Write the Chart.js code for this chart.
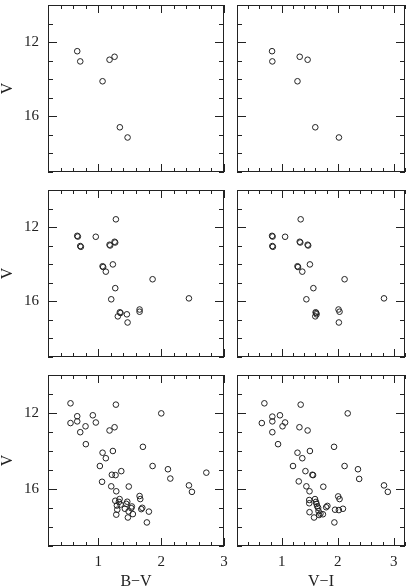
<!DOCTYPE html>
<html>
<head>
<meta charset="utf-8">
<script src="https://cdn.jsdelivr.net/npm/chart.js@4.4.0/dist/chart.umd.min.js"></script>
<style>
  html, body { margin: 0; padding: 0; background: #fff; overflow: hidden; }
  #wrap { position: relative; width: 410px; height: 586px; overflow: hidden; }
  canvas { position: absolute; }
</style>
</head>
<body>
<div id="wrap">
  <canvas id="topBV" width="232" height="177" style="left:0;top:0"></canvas>
  <canvas id="topVI" width="178" height="177" style="left:232px;top:0"></canvas>
  <canvas id="midBV" width="232" height="177" style="left:0;top:185px"></canvas>
  <canvas id="midVI" width="178" height="177" style="left:232px;top:185px"></canvas>
  <canvas id="botBV" width="232" height="226" style="left:0;top:370px"></canvas>
  <canvas id="botVI" width="178" height="226" style="left:232px;top:370px"></canvas>
</div>
<script>
// Top row: same stars in both colours
const topV  = [12.49, 13.04, 12.95, 12.79, 14.11, 16.59, 17.14];
const topBV = [0.665, 0.713, 1.179, 1.259, 1.068, 1.343, 1.466];
const topVI = [0.826, 0.831, 1.461, 1.320, 1.280, 1.598, 2.020];

// Middle row (last six are near-duplicates that show as thick circles)
const midV  = [11.58, 12.47, 12.52, 13.02, 12.79, 12.95, 14.11, 14.01, 14.40, 14.81, 15.29, 15.89, 15.84,
               16.59, 16.70, 16.81, 17.14, 16.44, 16.56,
               12.51, 13.06, 12.83, 12.99, 14.15, 16.63];
const midBV = [1.280, 0.665, 0.960, 0.713, 1.259, 1.179, 1.068, 1.232, 1.120, 1.864, 1.270, 1.206, 2.442,
               1.343, 1.455, 1.311, 1.466, 1.657, 1.657,
               0.675, 0.723, 1.269, 1.189, 1.078, 1.353];
const midVI = [1.337, 0.826, 1.059, 0.831, 1.320, 1.461, 1.280, 1.502, 1.366, 2.121, 1.564, 1.439, 2.825,
               1.604, 1.621, 1.598, 2.019, 2.013, 2.031,
               0.836, 0.841, 1.330, 1.471, 1.290, 1.614];

// Bottom row, B-V panel
const botBV = [0.558, 1.280, 2.002, 0.913, 0.665, 0.665, 0.558, 0.961, 0.797, 1.259, 1.179, 0.713, 0.802,
               1.710, 1.068, 1.232, 1.120, 1.025, 1.864, 2.108, 1.366, 2.719, 1.216, 1.275, 2.146, 1.060,
               1.206, 1.286, 1.485, 2.442, 2.490,
               1.657, 1.668, 1.270, 1.339, 1.328, 1.461, 1.445, 1.354, 1.296, 1.534, 1.525, 1.423, 1.302,
               1.684, 1.700, 1.805, 1.482, 1.550, 1.286, 1.471, 1.773];
const botV_BV = [11.49, 11.56, 12.02, 12.12, 12.17, 12.44, 12.53, 12.50, 12.70, 12.75, 12.92, 13.01, 13.64,
                 13.78, 14.09, 14.00, 14.38, 14.79, 14.79, 14.96, 15.06, 15.14, 15.25, 15.27, 15.45, 15.62,
                 15.86, 16.12, 15.87, 15.81, 16.15,
                 16.37, 16.53, 16.62, 16.53, 16.68, 16.67, 16.78, 16.82, 16.87, 16.92, 17.01, 17.04, 17.09,
                 17.06, 16.99, 17.19, 17.18, 17.32, 17.35, 17.50, 17.76];

// Bottom row, V-I panel
const botVI = [0.689, 1.337, 2.177, 0.967, 0.831, 0.831, 0.643, 1.059, 1.013, 1.315, 1.461, 0.831, 0.933,
               1.933, 1.280, 1.502, 1.366, 1.200, 2.121, 2.360, 1.422, 1.546, 1.558, 2.382, 1.303, 1.439,
               1.495, 1.741, 2.825, 2.893,
               2.007, 2.031, 1.490, 1.490, 1.593, 1.610, 1.621, 1.632, 1.649, 1.792, 1.814, 1.495, 1.656,
               1.690, 1.734, 1.666, 1.951, 2.019, 2.092, 1.576, 1.939];
const botV_VI = [11.49, 11.56, 12.02, 12.12, 12.19, 12.44, 12.53, 12.50, 12.70, 12.75, 12.92, 13.01, 13.64,
                 13.78, 14.09, 14.00, 14.38, 14.79, 14.79, 14.96, 15.06, 15.25, 15.27, 15.47, 15.60, 15.86,
                 16.12, 15.88, 15.81, 16.15,
                 16.39, 16.53, 16.58, 16.75, 16.53, 16.68, 16.79, 16.91, 16.99, 16.96, 16.89, 17.22, 17.16,
                 17.30, 17.33, 17.37, 17.09, 17.11, 17.04, 17.50, 17.76];

const ink = '#222';
const serif = 'Liberation Serif';

// frame plus inward ticks on all four sides, placed with the chart's scales
// minor every 0.2 in colour / 1 mag in V, major every 1 in colour / 4 mag in V
const frameTicks = {
  id: 'frameTicks',
  afterDraw(chart) {
    const {ctx, chartArea: a, scales: {x, y}} = chart;
    ctx.save();
    ctx.strokeStyle = ink;
    ctx.lineWidth = 1;
    ctx.strokeRect(a.left + 0.5, a.top + 0.5, a.right - a.left - 1, a.bottom - a.top - 1);
    ctx.beginPath();
    for (let k = Math.round(x.min * 5); k <= Math.round(x.max * 5); k++) {
      const len = k % 5 === 0 ? 8 : 4;
      const px = Math.round(x.getPixelForValue(k / 5)) + 0.5;
      ctx.moveTo(px, a.bottom); ctx.lineTo(px, a.bottom - len);
      ctx.moveTo(px, a.top); ctx.lineTo(px, a.top + len);
    }
    for (let v = y.min; v <= y.max; v++) {
      const len = v % 4 === 0 ? 9 : 5;
      const py = Math.round(y.getPixelForValue(v)) + 0.5;
      ctx.moveTo(a.left, py); ctx.lineTo(a.left + len, py);
      ctx.moveTo(a.right, py); ctx.lineTo(a.right - len, py);
    }
    ctx.stroke();
    ctx.restore();
  }
};

function makePanel(id, xs, ys, xMax, leftCol, bottomRow, xTitle) {
  const canvas = document.getElementById(id);
  return new Chart(canvas.getContext('2d'), {
    type: 'scatter',
    data: {
      datasets: [{
        data: xs.map((v, i) => ({x: v, y: ys[i]})),
        pointStyle: 'circle',
        pointRadius: 2.8,
        borderWidth: 1,
        borderColor: ink,
        backgroundColor: 'rgba(0,0,0,0)'
      }]
    },
    options: {
      responsive: false,
      animation: false,
      events: [],
      layout: {padding: {left: leftCol ? 0 : 1, right: leftCol ? 8 : 0, top: 0, bottom: bottomRow ? 0 : 1}},
      plugins: {legend: {display: false}, tooltip: {enabled: false}},
      scales: {
        x: {
          type: 'linear',
          min: 0.2,
          max: xMax,
          grid: {display: false, drawTicks: false},
          border: {display: false},
          ticks: {
            display: bottomRow,
            stepSize: 0.2,
            maxRotation: 0,
            autoSkip: false,
            padding: 7,
            color: ink,
            font: {family: serif, size: 15},
            callback: v => Math.abs(v - Math.round(v)) < 1e-6 && Math.round(v) >= 1 ? String(Math.round(v)) : null
          },
          title: {
            display: bottomRow,
            text: xTitle,
            color: ink,
            font: {family: serif, size: 16},
            padding: {top: 0, bottom: 5}
          },
          afterFit: s => { s.height = bottomRow ? 50 : 0; s.paddingLeft = 0; s.paddingRight = 0; }
        },
        y: {
          type: 'linear',
          reverse: true,
          min: 10,
          max: 19,
          grid: {display: false, drawTicks: false},
          border: {display: false},
          ticks: {
            display: leftCol,
            stepSize: 1,
            autoSkip: false,
            padding: 9,
            color: ink,
            font: {family: serif, size: 15},
            callback: v => v % 4 === 0 ? String(v) : null
          },
          title: {
            display: leftCol,
            text: 'V',
            color: ink,
            font: {family: serif, size: 16, lineHeight: 1},
            padding: {top: 0, bottom: 0}
          },
          afterFit: s => { s.width = leftCol ? 48 : 0; s.paddingTop = 0; s.paddingBottom = 0; }
        }
      }
    },
    plugins: [frameTicks]
  });
}

makePanel('topBV', topBV, topV, 3.0, true, false, 'B\u2212V');
makePanel('topVI', topVI, topV, 3.2, false, false, 'V\u2212I');
makePanel('midBV', midBV, midV, 3.0, true, false, 'B\u2212V');
makePanel('midVI', midVI, midV, 3.2, false, false, 'V\u2212I');
makePanel('botBV', botBV, botV_BV, 3.0, true, true, 'B\u2212V');
makePanel('botVI', botVI, botV_VI, 3.2, false, true, 'V\u2212I');
</script>
</body>
</html>
